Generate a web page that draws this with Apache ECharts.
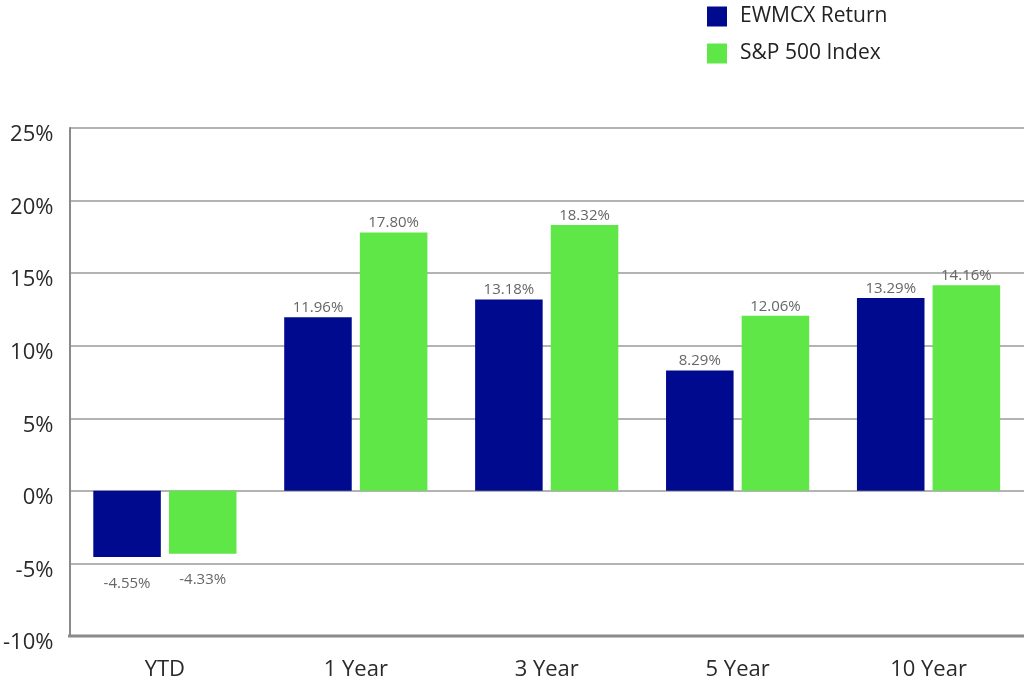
<!DOCTYPE html>
<html><head><meta charset="utf-8">
<script src="https://cdn.jsdelivr.net/npm/echarts@6/dist/echarts.min.js"></script>
<style>html,body{margin:0;padding:0;background:#fff}#c{width:1024px;height:685px}</style>
</head><body><div id="c"></div>
<script>
const categories = ['YTD', '1 Year', '3 Year', '5 Year', '10 Year'];
const fundName = 'EWMCX Return';
const indexName = 'S&P 500 Index';
const fundValues = [-4.55, 11.96, 13.18, 8.29, 13.29];
const indexValues = [-4.33, 17.80, 18.32, 12.06, 14.16];
const yTicks = { min: -10, max: 25, interval: 5 };

const font = '"Open Sans", "Noto Sans", sans-serif';
function mk(vals) {
  return vals.map(v => ({
    value: v,
    label: v < 0 ? { position: 'bottom', distance: 19 } : { position: 'top', distance: 2 }
  }));
}
const chart = echarts.init(document.getElementById('c'));
chart.setOption({
  animation: false,
  textStyle: { fontFamily: font },
  legend: {
    orient: 'vertical', left: 702, top: 1,
    itemWidth: 20, itemHeight: 20, itemGap: 16, icon: 'rect',
    textStyle: { fontSize: 21, color: '#222', fontFamily: font, padding: [0, 0, 0, 8] },
    data: [fundName, indexName]
  },
  grid: { left: 68, right: 0, top: 128, bottom: 49 },
  xAxis: {
    type: 'category', data: categories,
    axisLine: { show: false },
    axisTick: { show: false },
    axisLabel: { fontSize: 22, color: '#2a2a2a', margin: 23, fontFamily: font }
  },
  yAxis: {
    type: 'value', min: yTicks.min, max: yTicks.max, interval: yTicks.interval,
    axisLine: { show: true, lineStyle: { color: '#8a8a8a', width: 2 } },
    axisTick: { show: false },
    axisLabel: { fontSize: 22, color: '#2a2a2a', margin: 16, fontFamily: font, verticalAlign: 'top', lineHeight: 14, formatter: '{value}%' },
    splitLine: { lineStyle: { color: '#9a9a9a', width: 1.5 } }
  },
  series: [
    { name: fundName, type: 'bar', data: mk(fundValues), barGap: '12%', barCategoryGap: '25%',
      itemStyle: { color: '#000a8f' },
      label: { show: true, color: '#666', fontSize: 15, fontFamily: font, formatter: p => p.value.toFixed(2) + '%' } },
    { name: indexName, type: 'bar', data: mk(indexValues),
      itemStyle: { color: '#5fe647' },
      label: { show: true, color: '#666', fontSize: 15, fontFamily: font, formatter: p => p.value.toFixed(2) + '%' } }
  ]
});
const yb = chart.convertToPixel({ yAxisIndex: 0 }, yTicks.min);
chart.setOption({ graphic: [{ type: 'line', shape: { x1: 68, y1: yb, x2: 1024, y2: yb }, style: { stroke: '#8a8a8a', lineWidth: 3 } }] });
</script></body></html>
